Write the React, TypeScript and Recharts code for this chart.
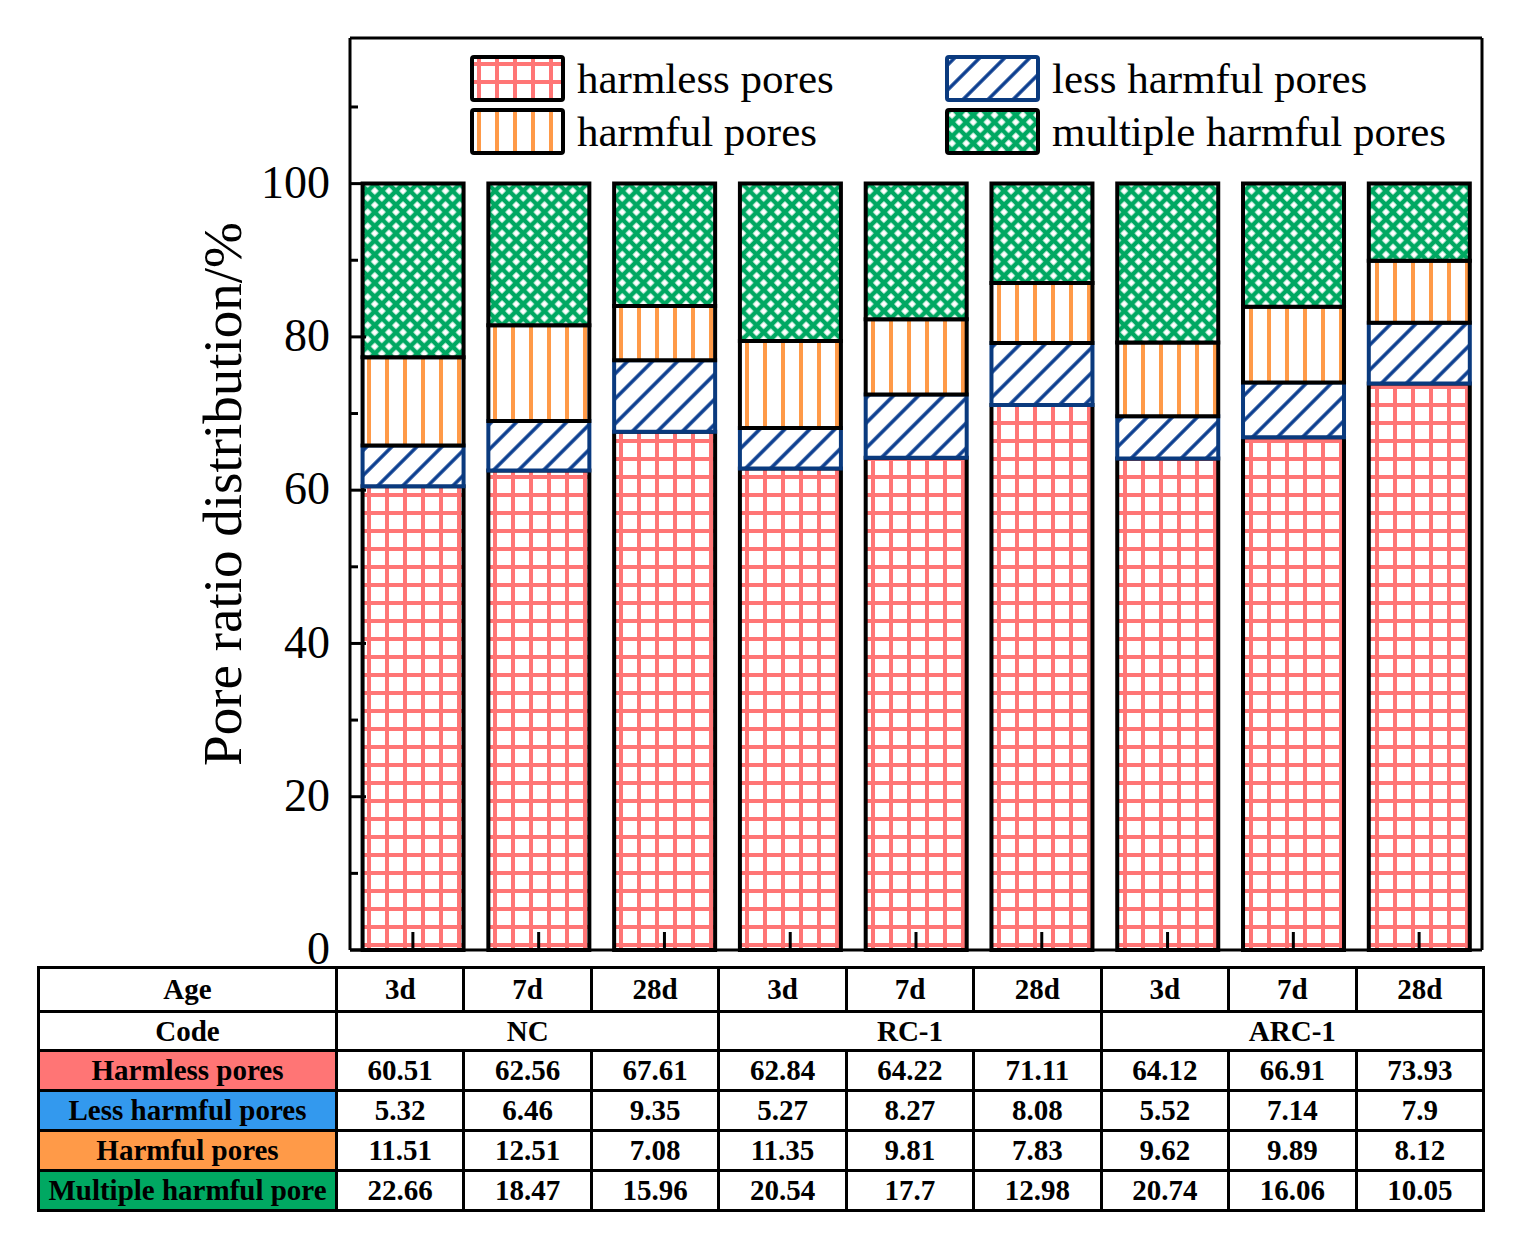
import { BarChart, Bar, XAxis, YAxis, Legend } from 'recharts';

const groups = ['NC', 'RC-1', 'ARC-1'];
const ages = ['3d', '7d', '28d'];

const harmless = [60.51, 62.56, 67.61, 62.84, 64.22, 71.11, 64.12, 66.91, 73.93];
const lessHarmful = [5.32, 6.46, 9.35, 5.27, 8.27, 8.08, 5.52, 7.14, 7.9];
const harmful = [11.51, 12.51, 7.08, 11.35, 9.81, 7.83, 9.62, 9.89, 8.12];
const multipleHarmful = [22.66, 18.47, 15.96, 20.54, 17.7, 12.98, 20.74, 16.06, 10.05];

const yTicks = [0, 10, 20, 30, 40, 50, 60, 70, 80, 90, 100, 110];

const SERIF = "'Liberation Serif', 'Times New Roman', serif";

const series = [
  { key: 'harmless', name: 'harmless pores', row: 'Harmless pores', values: harmless, fill: 'url(#pHarmless)', stroke: '#000', cell: '#FF7575' },
  { key: 'less', name: 'less harmful pores', row: 'Less harmful pores', values: lessHarmful, fill: 'url(#pLess)', stroke: '#0A3A7E', cell: '#3399EE' },
  { key: 'harmful', name: 'harmful pores', row: 'Harmful pores', values: harmful, fill: 'url(#pHarmful)', stroke: '#000', cell: '#FF9A48' },
  { key: 'multiple', name: 'multiple harmful pores', row: 'Multiple harmful pore', values: multipleHarmful, fill: 'url(#pMultiple)', stroke: '#000', cell: '#00A862' },
];

const categories = groups.flatMap((g) => ages.map((a) => `${g} ${a}`));

const data = categories.map((id, i) => {
  const row: Record<string, string | number> = { id };
  series.forEach((s) => {
    row[s.key] = s.values[i];
  });
  return row;
});

const YTick = (props: any) => {
  const { x, y, payload } = props;
  const v = payload.value;
  const major = v % 20 === 0 && v <= 100;
  return (
    <g>
      <line x1={x} x2={x + (major ? 16 : 8)} y1={y} y2={y} stroke="#000" strokeWidth={3} />
      {major && (
        <text x={x - 20} y={y} dy="0.31em" textAnchor="end" fontSize={46} fontFamily={SERIF} fill="#000">
          {v}
        </text>
      )}
    </g>
  );
};

const XTick = (props: any) => {
  const { x, y } = props;
  return <line x1={x} x2={x} y1={y} y2={y - 18} stroke="#000" strokeWidth={3} />;
};

// legend keeps the series order (harmless, less | harmful, multiple)
const renderLegend = () => (
  <div style={{ display: 'grid', gridTemplateColumns: '475px auto', rowGap: 6 }}>
    {series.map((s) => (
      <div key={s.key} style={{ display: 'flex', alignItems: 'center', height: 47 }}>
        <svg width={95} height={47} style={{ display: 'block', flex: 'none' }}>
          <rect x={2} y={2} width={91} height={43} rx={2} fill={s.fill} stroke={s.stroke} strokeWidth={4} />
        </svg>
        <span style={{ marginLeft: 12, fontFamily: SERIF, fontSize: 43, color: '#000', lineHeight: '47px', whiteSpace: 'nowrap' }}>
          {s.name}
        </span>
      </div>
    ))}
  </div>
);

const cellBase: React.CSSProperties = {
  border: '3px solid #000',
  textAlign: 'center',
  padding: 0,
  fontWeight: 'bold',
  fontSize: 29,
  fontFamily: SERIF,
  color: '#000',
  whiteSpace: 'nowrap',
  overflow: 'hidden',
};

export default function App() {
  return (
    <div style={{ position: 'absolute', left: 0, top: 0, width: 1514, height: 1255, background: '#fff' }}>
      <BarChart
        width={1514}
        height={1000}
        data={data}
        margin={{ top: 37, right: 31, bottom: 0, left: 270 }}
        barCategoryGap="10%"
      >
        <defs>
          <pattern id="pHarmless" patternUnits="userSpaceOnUse" width={18} height={18}>
            <rect width={18} height={18} fill="#fff" />
            <path d="M0 9H18M9 0V18" stroke="#FF7575" strokeWidth={4} />
          </pattern>
          <pattern id="pHarmful" patternUnits="userSpaceOnUse" width={18} height={18}>
            <rect width={18} height={18} fill="#fff" />
            <path d="M9 0V18" stroke="#FF9A48" strokeWidth={4} />
          </pattern>
          <pattern id="pLess" patternUnits="userSpaceOnUse" width={17.7} height={17.7} patternTransform="rotate(45)">
            <rect width={17.7} height={17.7} fill="#fff" />
            <path d="M8.85 0V17.7" stroke="#0A3D8F" strokeWidth={3.5} />
          </pattern>
          <pattern id="pMultiple" patternUnits="userSpaceOnUse" width={10} height={10} patternTransform="rotate(45)">
            <rect width={10} height={10} fill="#fff" />
            <path d="M0 5H10M5 0V10" stroke="#00A862" strokeWidth={4.6} />
          </pattern>
        </defs>
        <XAxis
          dataKey="id"
          height={50}
          interval={0}
          tickSize={0}
          tickMargin={0}
          tickLine={false}
          tick={<XTick />}
          axisLine={{ stroke: '#000', strokeWidth: 3 }}
        />
        <XAxis xAxisId="top" orientation="top" dataKey="id" height={1} tick={false} tickLine={false} axisLine={{ stroke: '#000', strokeWidth: 3 }} />
        <YAxis
          width={80}
          domain={[0, 119]}
          ticks={yTicks}
          interval={0}
          tickSize={0}
          tickMargin={0}
          tickLine={false}
          tick={<YTick />}
          axisLine={{ stroke: '#000', strokeWidth: 3 }}
          label={(p: any) => {
            const vb = p.viewBox || { x: 270, y: 38, width: 80, height: 912 };
            const cx = vb.x - 48;
            const cy = vb.y + vb.height / 2;
            return (
              <text x={cx} y={cy} transform={`rotate(-90 ${cx} ${cy})`} textAnchor="middle" dy="0.35em" fontSize={55} fontFamily={SERIF} fill="#000">
                Pore ratio distribution/%
              </text>
            );
          }}
        />
        <YAxis yAxisId="right" orientation="right" width={1} domain={[0, 119]} tick={false} tickLine={false} axisLine={{ stroke: '#000', strokeWidth: 3 }} />
        <Legend
          content={renderLegend}
          layout="horizontal"
          verticalAlign="middle"
          align="center"
          wrapperStyle={{ top: 55, left: 470, width: 1040, bottom: 'auto', right: 'auto' }}
        />
        {series.map((s) => (
          <Bar
            key={s.key}
            dataKey={s.key}
            name={s.name}
            stackId="pores"
            fill={s.fill}
            stroke={s.stroke}
            strokeWidth={4}
            isAnimationActive={false}
          />
        ))}
      </BarChart>

      <table
        style={{
          position: 'absolute',
          left: 37,
          top: 966,
          width: 1448,
          borderCollapse: 'collapse',
          tableLayout: 'fixed',
        }}
      >
        <colgroup>
          <col style={{ width: 298 }} />
          {categories.map((c) => (
            <col key={c} />
          ))}
        </colgroup>
        <tbody>
          <tr style={{ height: 44 }}>
            <td style={cellBase}>Age</td>
            {categories.map((c, i) => (
              <td key={c} style={cellBase}>
                {ages[i % ages.length]}
              </td>
            ))}
          </tr>
          <tr style={{ height: 39 }}>
            <td style={cellBase}>Code</td>
            {groups.map((g) => (
              <td key={g} colSpan={ages.length} style={cellBase}>
                {g}
              </td>
            ))}
          </tr>
          {series.map((s) => (
            <tr key={s.key} style={{ height: 40 }}>
              <td style={{ ...cellBase, background: s.cell }}>{s.row}</td>
              {s.values.map((v, i) => (
                <td key={i} style={cellBase}>
                  {v}
                </td>
              ))}
            </tr>
          ))}
        </tbody>
      </table>
    </div>
  );
}
